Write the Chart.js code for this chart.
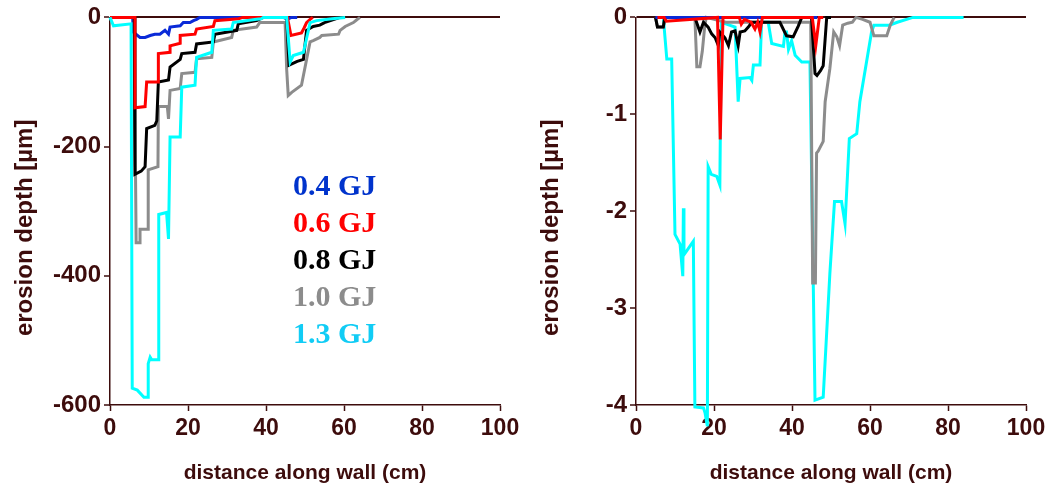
<!DOCTYPE html>
<html>
<head>
<meta charset="utf-8">
<script src="https://cdn.jsdelivr.net/npm/chart.js@4.4.0/dist/chart.umd.min.js"></script>
<style>
    body { margin: 0; background: #fff; width: 1055px; height: 494px; overflow: hidden; position: relative; }
    .painel { position: absolute; top: 0; width: 527px; height: 494px; }
    #legenda { position: absolute; left: 293px; top: 166px; font-family: 'Liberation Serif', 'Times New Roman', serif; font-weight: bold; font-size: 30px; line-height: 37px; }
</style>
</head>
<body>
<div class="painel" style="left:0"><canvas id="graficoEsq" width="527" height="494"></canvas></div>
<div class="painel" style="left:526px"><canvas id="graficoDir" width="527" height="494"></canvas></div>
<div id="legenda">
    <div style="color:#0033cc">0.4 GJ</div>
    <div style="color:#ff0000">0.6 GJ</div>
    <div style="color:#000000">0.8 GJ</div>
    <div style="color:#8c8c8c">1.0 GJ</div>
    <div style="color:#11ccf5">1.3 GJ</div>
</div>
<script>
// eixos
var ticksX = [0, 20, 40, 60, 80, 100];
var ticksYEsq = [0, -200, -400, -600];
var ticksYDir = [0, -1, -2, -3, -4];

// grafico esquerdo: profundidade em um (micrometros) x distancia (cm)
var dist04E = [0, 5.8, 6.0, 7.7, 9.0, 10.3, 11.5, 12.8, 14.1, 15.0, 15.4, 18.0, 18.8, 20.5, 21.4, 22.2, 23.0, 44.5, 45.5, 46.5, 48];
var eros04E = [0, 0, -23, -31, -31, -28, -26, -26, -20, -26, -15, -13, -8, -8, -5, -3, 0, 0, -3, 0, 0];

var dist06E = [0, 6.4, 6.4, 9.0, 9.4, 12.4, 12.4, 15.4, 15.4, 18.0, 18.0, 21.8, 22.2, 26.5, 26.9, 33, 34, 45.5, 46.4, 49.1, 49.8, 50.4, 51.3, 52];
var eros06E = [0, 0, -140, -138, -100, -100, -56, -54, -44, -40, -28, -26, -18, -14, -5, -2, 0, 0, -28, -24, -16, -8, -3, 0];

var dist08E = [0, 6.2, 6.4, 8.0, 9.0, 9.4, 11.5, 12.0, 12.4, 15.0, 15.4, 18.0, 18.4, 21.8, 22.2, 26.5, 26.9, 32.5, 32.9, 37.6, 39.3, 45.3, 45.9, 48.0, 49.6, 50.4, 52.1, 53.8, 55, 59];
var eros08E = [0, 0, -243, -238, -231, -172, -167, -160, -100, -97, -77, -65, -56, -54, -41, -38, -26, -20, -10, -5, 0, 0, -74, -68, -65, -20, -14, -12, -8, 0];

var dist10E = [0, 6.2, 6.7, 7.7, 7.7, 9.8, 9.8, 12.3, 12.4, 14.7, 15.0, 15.4, 18.0, 18.4, 21.8, 22.2, 26.1, 26.5, 31.2, 31.6, 37.6, 38.4, 44.9, 45.3, 45.7, 46.6, 49.1, 51.3, 52.1, 53.8, 54.3, 58.6, 59.0, 60.3, 62.4, 63.2, 64.1];
var eros10E = [0, 0, -349, -349, -328, -328, -236, -231, -138, -138, -157, -113, -110, -87, -85, -64, -62, -38, -31, -20, -15, -8, -8, -80, -121, -116, -105, -38, -36, -31, -28, -26, -20, -14, -8, -4, 0];

var dist13E = [0, 0.9, 5.4, 5.7, 7.0, 8.7, 9.8, 9.8, 10.3, 10.7, 12.4, 12.5, 14.5, 15.0, 15.4, 18.0, 18.4, 21.8, 22.2, 26.1, 26.5, 31.2, 31.6, 37.6, 38.8, 39.3, 45.3, 46.2, 47.0, 49.6, 51.3, 53, 57, 60.3];
var eros13E = [0, -13, -10, -574, -577, -588, -588, -536, -526, -530, -530, -305, -302, -343, -185, -185, -108, -105, -62, -54, -20, -18, -8, -3, -2, 0, 0, -69, -59, -54, -8, -5, -2, 0];

// grafico direito
var dist04D = [5, 46.5];
var eros04D = [0, 0];

var dist06D = [5.5, 7.2, 7.8, 20.9, 21.6, 22.3, 26.5, 27.0, 27.8, 29.5, 30.5, 31.2, 31.8, 32.4, 45.2, 46.1, 47.0, 48.0];
var eros06D = [0, 0, -0.04, 0, -1.26, 0, 0, -0.07, -0.02, -0.05, -0.12, -0.05, -0.15, 0, 0, -0.29, 0, 0];

var dist08D = [5, 5.5, 7.0, 7.4, 15.1, 16.4, 17.3, 18.5, 19.4, 20.3, 21.1, 21.5, 22.8, 23.7, 24.5, 25.4, 26.2, 26.7, 27.9, 28.8, 29.7, 33.1, 36.9, 38.6, 40.3, 41.6, 42.5, 45.0, 45.9, 46.4, 47.3, 48.0, 48.9, 50];
var eros08D = [0, -0.1, -0.1, 0, 0, -0.15, -0.05, -0.1, -0.17, -0.21, -0.29, -0.15, -0.21, -0.29, -0.15, -0.14, -0.29, -0.15, -0.14, -0.1, -0.05, -0.05, -0.05, -0.19, -0.2, -0.09, 0, 0, -0.58, -0.6, -0.55, -0.5, 0, 0];

var dist10D = [5, 5.5, 7.0, 7.4, 15.1, 15.6, 16.4, 17.0, 17.6, 18.0, 23, 26, 44.8, 45.3, 46.0, 46.3, 46.7, 48.0, 48.5, 49.7, 50.7, 51.5, 52.2, 53.0, 54.3, 55.5, 56.4, 58.1, 60.0, 61.0, 64.3, 65.2, 66.2];
var eros10D = [0, -0.1, -0.1, 0, 0, -0.51, -0.51, -0.35, -0.1, 0, -0.05, -0.05, -0.05, -2.74, -2.74, -1.4, -1.38, -1.28, -0.87, -0.53, -0.15, -0.2, -0.29, -0.08, -0.06, -0.05, 0, -0.02, -0.05, -0.19, -0.19, -0.08, 0];

var dist13D = [7.0, 7.9, 9.15, 10.0, 11.3, 12.0, 12.15, 12.3, 13.0, 14.7, 15.1, 17.3, 17.7, 18.3, 18.5, 19.3, 20.7, 21.5, 21.9, 25.4, 26.2, 26.7, 29.2, 29.7, 30.1, 31.8, 32.2, 33.9, 34.8, 37.8, 38.2, 38.6, 39.1, 39.9, 40.8, 42.5, 44.6, 45.9, 48.0, 49.7, 50.9, 52.7, 53.6, 54.7, 56.6, 57.4, 60.4, 61.0, 65, 67, 71, 84];
var eros13D = [0, -0.43, -0.43, -2.24, -2.34, -2.67, -1.97, -2.45, -2.41, -2.31, -4.02, -4.03, -4.08, -4.22, -1.54, -1.62, -1.64, -1.73, -0.05, -0.1, -0.87, -0.63, -0.62, -0.65, -0.49, -0.49, -0.05, -0.05, -0.27, -0.3, -0.15, -0.15, -0.33, -0.24, -0.39, -0.46, -0.46, -3.95, -3.92, -2.65, -1.9, -1.9, -2.13, -1.25, -1.2, -0.87, -0.15, -0.08, -0.08, -0.05, 0, 0];

var corTexto = '#3d0c0c';
var fonteEixo = "'Liberation Sans', Arial, sans-serif";

function pares(xs, ys) {
    var pts = [];
    for (var i = 0; i < xs.length; i++) {
        pts.push({ x: xs[i], y: ys[i] });
    }
    return pts;
}

function serie(xs, ys, cor) {
    return {
        data: pares(xs, ys),
        borderColor: cor,
        borderWidth: 3,
        pointRadius: 0,
        showLine: true,
        fill: false,
        clip: false
    };
}

function criarGrafico(idCanvas, series, ticksY) {
    var ctx = document.getElementById(idCanvas).getContext('2d');
    return new Chart(ctx, {
        type: 'scatter',
        data: { datasets: series },
        options: {
            responsive: false,
            animation: false,
            layout: { padding: { top: 15, right: 27, bottom: 0, left: 0 } },
            plugins: { legend: { display: false }, tooltip: { enabled: false } },
            scales: {
                x: {
                    type: 'linear',
                    min: 0,
                    max: 100,
                    afterBuildTicks: function (scale) {
                        scale.ticks = ticksX.map(function (v) { return { value: v }; });
                    },
                    afterFit: function (scale) { scale.height = 89; },
                    border: { display: true, color: corTexto, width: 1.5 },
                    grid: { drawOnChartArea: false, tickLength: 6, tickColor: corTexto, tickWidth: 1.5 },
                    ticks: { color: corTexto, padding: 4, maxRotation: 0, font: { family: fonteEixo, size: 23, weight: 'bold' } },
                    title: {
                        display: true,
                        text: 'distance along wall (cm)',
                        color: corTexto,
                        padding: { top: 0, bottom: 8 },
                        font: { family: fonteEixo, size: 21, weight: 'bold' }
                    }
                },
                y: {
                    type: 'linear',
                    min: ticksY[ticksY.length - 1],
                    max: 0,
                    afterBuildTicks: function (scale) {
                        scale.ticks = ticksY.map(function (v) { return { value: v }; });
                    },
                    afterFit: function (scale) { scale.width = 110; },
                    border: { display: true, color: corTexto, width: 1.5 },
                    grid: {
                        color: function (c) { return c.tick && c.tick.value === 0 ? corTexto : 'rgba(0,0,0,0)'; },
                        lineWidth: 2,
                        tickLength: 6,
                        tickColor: corTexto,
                        tickWidth: 1.5
                    },
                    ticks: { color: corTexto, padding: 3, font: { family: fonteEixo, size: 24, weight: 'bold' } },
                    title: {
                        display: true,
                        // espacos no fim empurram o titulo para baixo, como no original
                        text: 'erosion depth [\u00b5m]     ',
                        color: corTexto,
                        padding: { top: 11, bottom: 0 },
                        font: { family: fonteEixo, size: 24, weight: 'bold' }
                    }
                }
            }
        }
    });
}

var azul = '#0a2ad8';
var vermelho = '#ff0000';
var preto = '#000000';
var cinza = '#8c8c8c';
var ciano = '#00ffff';

criarGrafico('graficoEsq', [
    serie(dist13E, eros13E, ciano),
    serie(dist06E, eros06E, vermelho),
    serie(dist08E, eros08E, preto),
    serie(dist10E, eros10E, cinza),
    serie(dist04E, eros04E, azul)
], ticksYEsq);

criarGrafico('graficoDir', [
    serie(dist06D, eros06D, vermelho),
    serie(dist04D, eros04D, azul),
    serie(dist08D, eros08D, preto),
    serie(dist10D, eros10D, cinza),
    serie(dist13D, eros13D, ciano)
], ticksYDir);
</script>
</body>
</html>
